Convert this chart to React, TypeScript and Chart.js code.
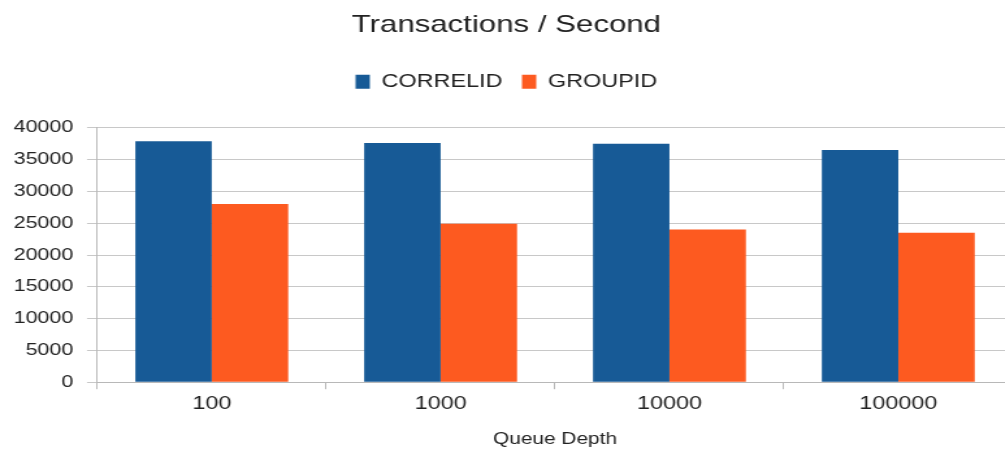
import React, { useEffect, useRef } from "react";
import { Chart, registerables } from "chart.js";

Chart.register(...registerables);

const categories = ["100", "1000", "10000", "100000"];
const correlid = [37900, 37600, 37500, 36500];
const groupid = [28000, 24900, 24000, 23500];
const seriesNames = ["CORRELID", "GROUPID"];
const chartTitle = "Transactions / Second";
const xTitle = "Queue Depth";

const STRETCH = 1.3;
const INNER_W = 781;

const legendGap = {
  id: "legendGap",
  beforeInit(chart: any) {
    const legend = chart.legend;
    if (!legend) return;
    const origFit = legend.fit;
    legend.fit = function () {
      origFit.call(this);
      this.height += 27;
    };
  },
};

export default function App() {
  const ref = useRef<HTMLCanvasElement | null>(null);
  useEffect(() => {
    if (!ref.current) return;
    const font = "'Liberation Sans', Arial, sans-serif";
    const text = "#222222";
    const chart = new Chart(ref.current, {
      type: "bar",
      data: {
        labels: categories,
        datasets: [
          { label: seriesNames[0], data: correlid, backgroundColor: "#175a96", borderWidth: 0 },
          { label: seriesNames[1], data: groupid, backgroundColor: "#fd5a20", borderWidth: 0 },
        ],
      },
      plugins: [legendGap],
      options: {
        responsive: false,
        animation: false,
        layout: { padding: { left: 0, right: 2, top: 0, bottom: 1 } },
        datasets: { bar: { categoryPercentage: 0.668, barPercentage: 1 } },
        plugins: {
          title: {
            display: true,
            text: chartTitle,
            color: text,
            font: { family: font, size: 24, weight: "normal" },
            padding: { top: 11, bottom: 18 },
          },
          legend: {
            display: true,
            labels: {
              color: text,
              font: { family: font, size: 18 },
              boxWidth: 11,
              boxHeight: 14,
              padding: 15,
            },
          },
          tooltip: { enabled: false },
        },
        scales: {
          x: {
            grid: { drawOnChartArea: false, drawTicks: true, tickLength: 7, color: "#b8b8b8", offset: true },
            border: { color: "#b8b8b8", width: 1 },
            ticks: { color: text, font: { family: font, size: 18 }, padding: 4 },
            title: {
              display: true,
              text: xTitle,
              color: text,
              font: { family: font, size: 16 },
              padding: { top: 11, bottom: 0 },
            },
          },
          y: {
            min: 0,
            max: 40000,
            ticks: {
              stepSize: 5000,
              color: text,
              font: { family: font, size: 16.5 },
              padding: 10.5,
              callback: (v: any) => String(v),
            },
            grid: { color: "#c8c8c8", tickLength: 8, drawTicks: true },
            border: { color: "#b8b8b8", width: 1 },
          },
        },
      },
    });
    return () => chart.destroy();
  }, []);
  return (
    <div style={{ position: "fixed", left: 0, top: 0, width: 1005, height: 450, overflow: "hidden", background: "#fff" }}>
      <div style={{ width: INNER_W, height: 450, transform: `scaleX(${STRETCH})`, transformOrigin: "0 0" }}>
        <canvas ref={ref} width={INNER_W} height={450} style={{ width: INNER_W, height: 450, display: "block" }} />
      </div>
    </div>
  );
}
